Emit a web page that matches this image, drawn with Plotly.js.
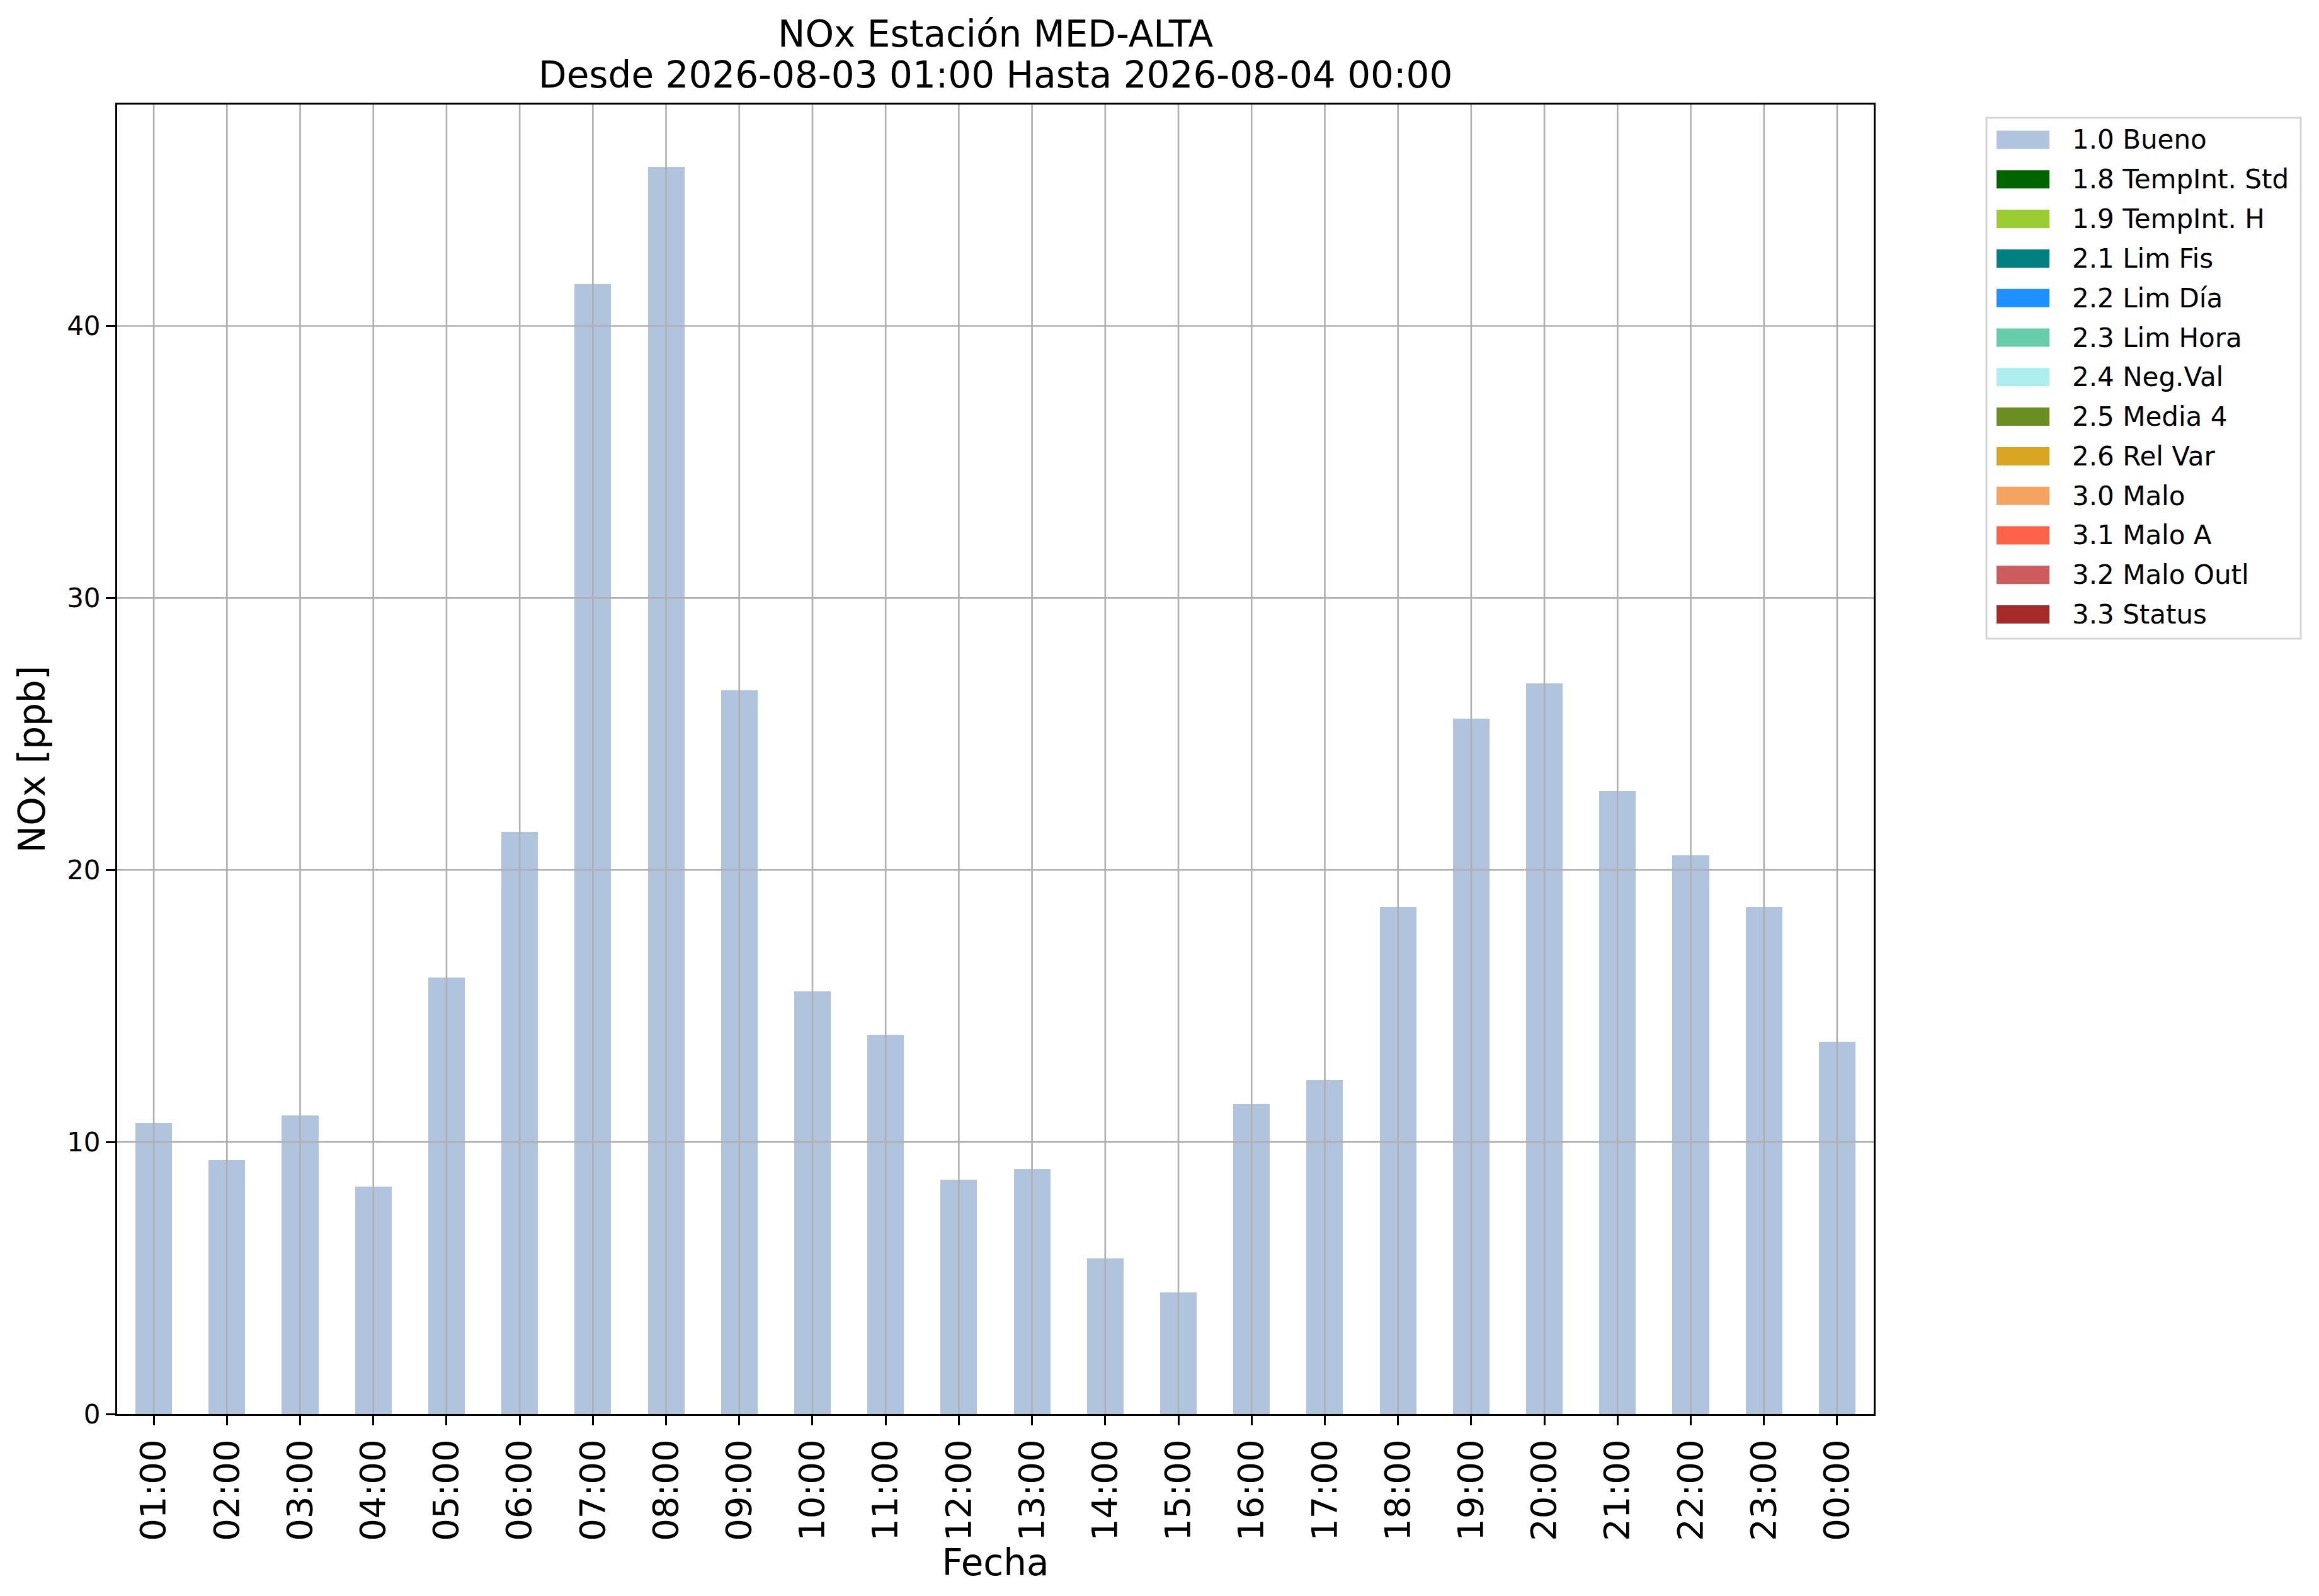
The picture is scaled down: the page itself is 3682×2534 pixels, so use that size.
<!DOCTYPE html>
<html>
<head>
<meta charset="utf-8">
<script src="https://cdn.plot.ly/plotly-3.0.1.min.js"></script>
<style>
  html, body { margin: 0; padding: 0; background: #ffffff; }
  #chart { width: 3682px; height: 2534px; }
</style>
</head>
<body>
<div id="chart"></div>
<script>
// ─── Data ─────────────────────────────────────────────────────────────────────
const hours = ['01:00', '02:00', '03:00', '04:00', '05:00', '06:00', '07:00', '08:00',
               '09:00', '10:00', '11:00', '12:00', '13:00', '14:00', '15:00', '16:00',
               '17:00', '18:00', '19:00', '20:00', '21:00', '22:00', '23:00', '00:00'];
const noxBueno = [10.70, 9.34, 10.98, 8.36, 16.05, 21.40, 41.55, 45.85,
                  26.60, 15.53, 13.95, 8.62, 9.00, 5.72, 4.47, 11.40,
                  12.27, 18.63, 25.57, 26.87, 22.90, 20.55, 18.63, 13.68];
const flagLabels = ['1.0 Bueno', '1.8 TempInt. Std', '1.9 TempInt. H', '2.1 Lim Fis',
                    '2.2 Lim Día', '2.3 Lim Hora', '2.4 Neg.Val', '2.5 Media 4',
                    '2.6 Rel Var', '3.0 Malo', '3.1 Malo A', '3.2 Malo Outl', '3.3 Status'];
const flagColors = ['#b0c4de', '#006400', '#9acd32', '#008080', '#1e90ff', '#66cdaa',
                    '#afeeee', '#6b8e23', '#daa520', '#f4a460', '#ff6347', '#cd5c5c', '#a52a2a'];
const yTicks = [0, 10, 20, 30, 40];
const titleLines = ['NOx Estación MED-ALTA', 'Desde 2026-08-03 01:00 Hasta 2026-08-04 00:00'];

// ─── Geometry (pixels of the 3682x2534 page) ──────────────────────────────────
const W = 3682, H = 2534;
const plotL = 186, plotR = 2975, plotT = 166, plotB = 2245;
const px2x = px => (px - plotL) / (plotR - plotL);
const px2y = py => (plotB - py) / (plotB - plotT);

const FONT = 'DejaVu Sans, sans-serif';
const GRID = '#b0b0b0';

// ─── Traces ───────────────────────────────────────────────────────────────────
const traces = [{
    type: 'bar',
    x: hours, y: noxBueno,
    name: flagLabels[0],
    width: 0.5,
    marker: { color: flagColors[0], line: { width: 0 } },
    showlegend: false,
    hoverinfo: 'x+y',
}];

// ─── Grid (drawn over the bars, as in the reference) ─────────────────────────
const shapes = [];
hours.forEach((h, i) => {
    shapes.push({
        type: 'line', layer: 'above',
        xref: 'x', yref: 'paper', x0: i, x1: i, y0: 0, y1: 1,
        line: { color: GRID, width: 2.6 },
    });
});
yTicks.filter(v => v > 0).forEach(v => {
    shapes.push({
        type: 'line', layer: 'above',
        xref: 'paper', yref: 'y', x0: 0, x1: 1, y0: v, y1: v,
        line: { color: GRID, width: 2.6 },
    });
});

// ─── Legend box, drawn by hand to get matplotlib-like patches ────────────────
const annotations = [];
shapes.push({
    type: 'rect', layer: 'above',
    xref: 'paper', yref: 'paper',
    x0: px2x(3154), x1: px2x(3653), y0: px2y(1014), y1: px2y(187),
    line: { color: '#d6d6d6', width: 3 }, fillcolor: 'rgba(255,255,255,0.8)',
});
flagLabels.forEach((label, i) => {
    const cy = 222 + 62.8 * i;
    shapes.push({
        type: 'rect', layer: 'above',
        xref: 'paper', yref: 'paper',
        x0: px2x(3170), x1: px2x(3254), y0: px2y(cy + 14.5), y1: px2y(cy - 14.5),
        line: { width: 0 }, fillcolor: flagColors[i],
    });
    annotations.push({
        xref: 'paper', yref: 'paper',
        x: px2x(3288), y: px2y(cy),
        xanchor: 'left', yanchor: 'middle',
        text: label, showarrow: false,
        font: { family: FONT, size: 42, color: '#000000' },
    });
});

// ─── Title (two lines, matplotlib spacing) ───────────────────────────────────
[54, 119].forEach((cy, i) => {
    annotations.push({
        xref: 'paper', yref: 'paper',
        x: 0.5, y: px2y(cy),
        xanchor: 'center', yanchor: 'middle',
        text: titleLines[i], showarrow: false,
        font: { family: FONT, size: 58, color: '#000000' },
    });
});

// ─── Layout ───────────────────────────────────────────────────────────────────
const layout = {
    width: W, height: H,
    paper_bgcolor: '#ffffff',
    plot_bgcolor: '#ffffff',
    font: { family: FONT, color: '#000000' },
    margin: { l: plotL, r: W - plotR, t: plotT, b: H - plotB, pad: 0 },
    showlegend: false,
    bargap: 0,
    xaxis: {
        type: 'category',
        range: [-0.5, hours.length - 0.5],
        tickangle: -90,
        tickfont: { family: FONT, size: 56 },
        ticks: 'outside', ticklen: 15, tickwidth: 3, tickcolor: '#000000',
        showline: true, linecolor: '#000000', linewidth: 3, mirror: true,
        showgrid: false, zeroline: false,
        automargin: false,
        title: { text: 'Fecha', font: { family: FONT, size: 58 }, standoff: 5 },
    },
    yaxis: {
        range: [0, 48.14],
        tickvals: yTicks,
        tickfont: { family: FONT, size: 42 },
        ticks: 'outside', ticklen: 15, tickwidth: 3, tickcolor: '#000000',
        showline: true, linecolor: '#000000', linewidth: 3, mirror: true,
        showgrid: false, zeroline: false,
        automargin: false,
        title: { text: 'NOx [ppb]', font: { family: FONT, size: 58 }, standoff: 16 },
    },
    shapes: shapes,
    annotations: annotations,
};

Plotly.newPlot('chart', traces, layout, { displayModeBar: false, staticPlot: true });
</script>
</body>
</html>
